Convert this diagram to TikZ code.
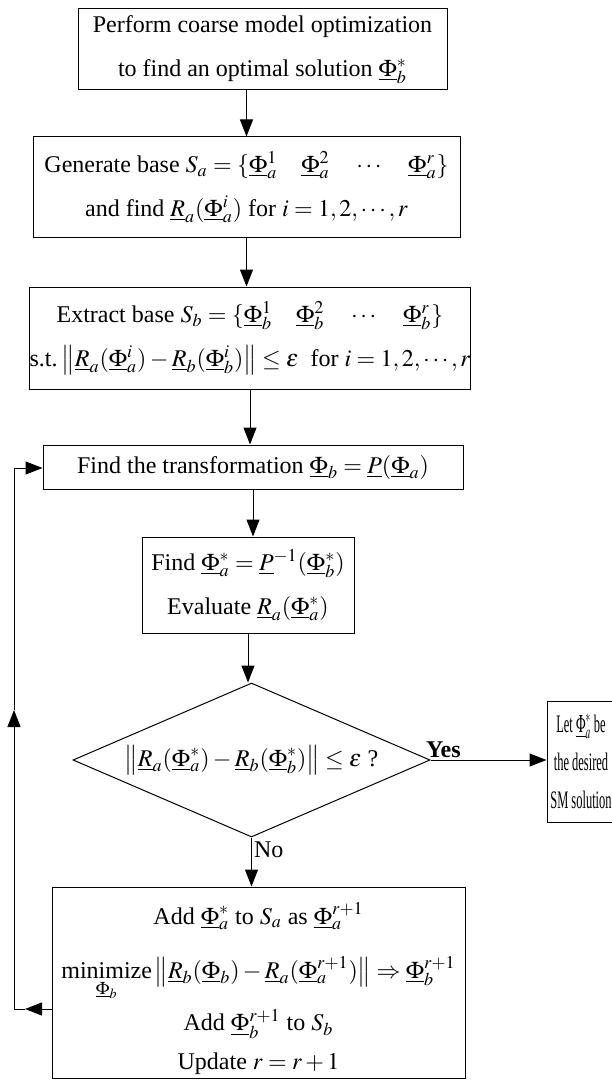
\documentclass[tikz,border=0pt]{standalone}
\usepackage{mathptmx}
\usepackage[no-math]{fontspec}
\setmainfont{Liberation Serif}
\usepackage{graphicx}
\usetikzlibrary{shapes.geometric,arrows.meta,calc}

\begin{document}
\begin{tikzpicture}[x=0.5pt,y=-0.5pt,
  box/.style={draw, line width=0.5pt, inner sep=0pt, align=center, font=\fontsize{12}{22}\selectfont},
  decision/.style={draw, diamond, aspect=2.32, line width=0.5pt, inner sep=0pt, font=\fontsize{12}{22}\selectfont},
  arr/.style={line width=0.5pt, -{Triangle[length=8.5pt,width=6.5pt]}},
  lbl/.style={inner sep=1pt, font=\fontsize{12}{14}\selectfont}]
\useasboundingbox (0,0) rectangle (611,1081);
% boxes
\node[box, minimum width=184.5pt, minimum height=40.5pt] (opt) at (262.5,49.5)
  {Perform coarse model optimization\\ to find an optimal solution $\underline{\Phi}_b^{*}$};
\node[box, minimum width=213.5pt, minimum height=50pt] (gen) at (246.5,187)
  {Generate base $S_a=\{\underline{\Phi}_a^1\quad \underline{\Phi}_a^2\quad \cdots\quad \underline{\Phi}_a^r\}$\\
   and find $\underline{R}_a(\underline{\Phi}_a^i)$ for $i=1,2,\cdots,r$};
\node[box, minimum width=217pt, minimum height=51pt] (ext) at (250,338)
  {Extract base $S_b=\{\underline{\Phi}_b^1\quad \underline{\Phi}_b^2\quad \cdots\quad \underline{\Phi}_b^r\}$\\
   s.t.\,$\left\|\underline{R}_a(\underline{\Phi}_a^i)-\underline{R}_b(\underline{\Phi}_b^i)\right\|\le\epsilon$\ \ for $i=1,2,\cdots,r$};
\node[box, minimum width=210pt, minimum height=22pt] (find) at (253,467)
  {Find the transformation $\underline{\Phi}_b=\underline{P}(\underline{\Phi}_a)$};
\node[box, minimum width=106pt, minimum height=48pt] (eval) at (248,585)
  {Find $\underline{\Phi}_a^*=\underline{P}^{-1}(\underline{\Phi}_b^*)$\\ Evaluate $\underline{R}_a(\underline{\Phi}_a^*)$};
\node[decision, minimum width=178.5pt, minimum height=77pt] (dec) at (251.5,760)
  {$\left\|\underline{R}_a(\underline{\Phi}_a^*)-\underline{R}_b(\underline{\Phi}_b^*)\right\|\le\epsilon$ ?};
\node[box, minimum width=34pt, minimum height=60.5pt, font=\fontsize{12}{19}\selectfont] (sol) at (581,761.5)
  {\scalebox{0.52}[1.05]{Let $\underline{\Phi}_a^*$ be}\\ \scalebox{0.52}[1.05]{the desired}\\ \scalebox{0.52}[1.05]{SM solution}};
\node[box, minimum width=206.5pt, minimum height=95.5pt] (upd) at (258.5,982.5)
  {\rule{0pt}{17pt}Add $\underline{\Phi}_a^*$ to $S_a$ as $\underline{\Phi}_a^{r+1}$\\[5pt]
   $\mathop{\mbox{minimize}}\limits_{\underline{\Phi}_b}\left\|\underline{R}_b(\underline{\Phi}_b)-\underline{R}_a(\underline{\Phi}_a^{r+1})\right\|\Rightarrow\underline{\Phi}_b^{r+1}$\\[3pt]
   Add $\underline{\Phi}_b^{r+1}$ to $S_b$\\[-2.5pt]
   Update $r=r+1$};
% flow
\draw[arr] (opt.south -| gen.north) -- (gen.north);
\draw[arr] (gen.south) -- (gen.south |- ext.north);
\draw[arr] (ext.south) -- (ext.south |- find.north);
\draw[arr] (find.south) -- (find.south |- eval.north);
\draw[arr] (eval.south) -- (eval.south |- dec.north);
\draw[arr] (dec.east) -- (sol.west |- dec.east) node[lbl, pos=0, anchor=south west, xshift=-3.5pt, font=\bfseries\fontsize{12}{14}\selectfont] (yes) {Yes};
\draw[arr] (dec.south) -- (dec.south |- upd.north) node[lbl, pos=0.25, anchor=west] (no) {No};
% loop back
\coordinate (lp1) at (14,1009);
\coordinate (lp2) at (14,468);
\coordinate (tipl) at (25,1009);
\coordinate (tipu) at (14,710);
\draw[arr] (upd.west |- lp1) -- (tipl);
\draw[arr] (tipl) -- (lp1) -- (tipu);
\draw[arr] (tipu) -- (lp2) -- (find.west |- lp2);
\end{tikzpicture}
\end{document}
